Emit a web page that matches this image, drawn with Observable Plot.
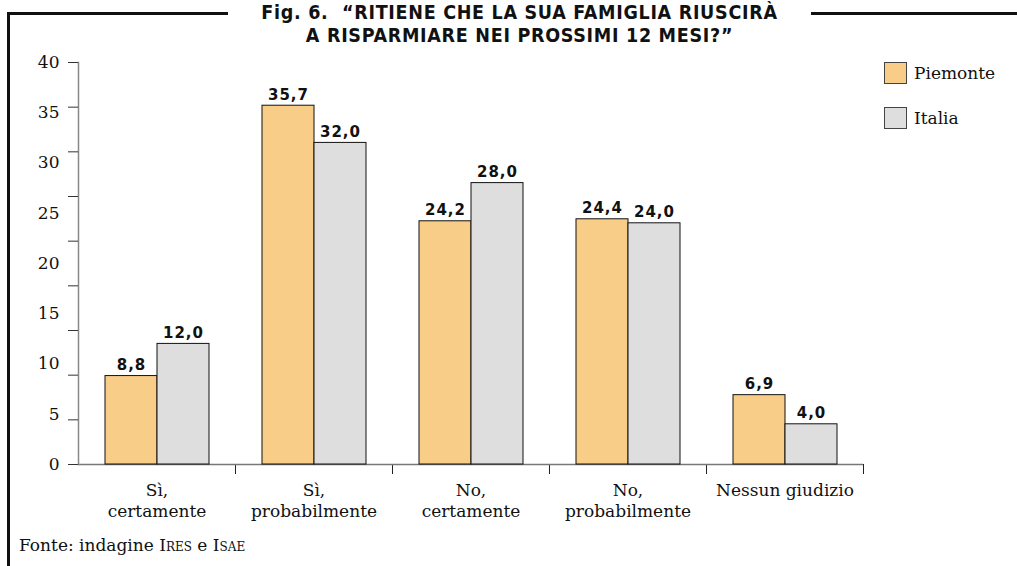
<!DOCTYPE html>
<html>
<head>
<meta charset="utf-8">
<script src="https://cdn.jsdelivr.net/npm/d3@7"></script>
<script src="https://cdn.jsdelivr.net/npm/@observablehq/plot@0.6"></script>
<style>
  html, body { margin: 0; padding: 0; background: white; }
  #wrap { position: relative; width: 1017px; height: 566px; overflow: hidden; background: white; }
  #chart { position: absolute; left: 0; top: 0; }
  #border { position: absolute; left: 7px; top: 12px; width: 2000px; height: 2000px;
            border-left: 3px solid #111; border-top: 3px solid #111; box-sizing: border-box; }
  #title { position: absolute; left: 228px; top: 1px; width: 583px; background: white;
           text-align: center; font-family: "DejaVu Sans Condensed", "DejaVu Sans", sans-serif;
           font-stretch: condensed; font-weight: bold; font-size: 19.5px; line-height: 23px;
           letter-spacing: 0.7px; color: #111; }
  #legend { position: absolute; left: 884px; top: 62px; font-family: "DejaVu Serif", serif; font-size: 17px; color: #111; }
  .item { position: relative; height: 45px; }
  .sw { position: absolute; left: 0; top: 0; width: 21px; height: 20px; border: 1px solid #444; }
  .lab { position: absolute; left: 30px; top: 2px; line-height: 18px; }
  #caption { position: absolute; left: 19px; top: 535px; font-family: "DejaVu Serif", serif; font-size: 17px; color: #111; }
  .sc { font-variant: small-caps; }
  svg g[font-weight="bold"] text { letter-spacing: 1px; }
</style>
</head>
<body>
<div id="wrap">
  <div id="chart"></div>
  <div id="border"></div>
  <div id="title">Fig. 6.&nbsp; “RITIENE CHE LA SUA FAMIGLIA RIUSCIRÀ<br>A RISPARMIARE NEI PROSSIMI 12 MESI?”</div>
  <div id="legend"></div>
  <div id="caption">Fonte: indagine <span class="sc">Ires</span> e <span class="sc">Isae</span></div>
</div>
<script>
// ---- data ----
const categories = ["Sì,\ncertamente", "Sì,\nprobabilmente", "No,\ncertamente", "No,\nprobabilmente", "Nessun giudizio"];
const series = ["Piemonte", "Italia"];
const piemonte = [8.8, 35.7, 24.2, 24.4, 6.9];
const italia = [12.0, 32.0, 28.0, 24.0, 4.0];
const colors = ["#F8CD88", "#DEDEDE"];
const yLabels = [0, 5, 10, 15, 20, 25, 30, 35, 40];
const yMinorTicks = d3.range(10).map(i => i * 40 / 9);

const data = [];
categories.forEach((c, i) => {
  data.push({cat: c, serie: "Piemonte", value: piemonte[i]});
  data.push({cat: c, serie: "Italia", value: italia[i]});
});
const fmt = v => v.toFixed(1).replace(".", ",");

const W = 1017, H = 566, mT = 62, mB = 102, mL = 76, mR = 153;

const chart = Plot.plot({
  width: W, height: H,
  marginTop: mT, marginBottom: mB, marginLeft: mL, marginRight: mR,
  style: {fontFamily: "'DejaVu Serif', serif", fontSize: "17px", color: "#111", background: "transparent"},
  fx: {domain: categories, padding: 0},
  x: {domain: series, paddingInner: 0, paddingOuter: 0.5, axis: null},
  y: {domain: [0, 40]},
  color: {domain: series, range: colors},
  marks: [
    Plot.frame({anchor: "right", insetTop: H - mT - mB, insetBottom: -9, stroke: "#222"}),
    Plot.ruleY([0], {stroke: "#777", strokeWidth: 1.5}),
    Plot.barY(data, {fx: "cat", x: "serie", y: "value", fill: "serie", stroke: "#111", strokeWidth: 1}),
    Plot.text(data, {fx: "cat", x: "serie", y: "value", text: d => fmt(d.value), lineAnchor: "bottom", dy: -6,
      fontFamily: "'DejaVu Sans', sans-serif", fontWeight: "bold", fontSize: 15, fill: "#111"}),
    Plot.frame({anchor: "left", facetAnchor: "left", stroke: "#888", strokeWidth: 1.5}),
    Plot.axisY({ticks: yMinorTicks, tickSize: 10, tickFormat: () => "", stroke: "#333", label: null}),
    Plot.axisY({ticks: yLabels, tickSize: 0, tickPadding: 19, fontSize: 17, label: null, tickFormat: d => String(d)}),
    Plot.axisFx({anchor: "bottom", tickSize: 0, tickPadding: 16, fontSize: 17, lineHeight: 1.25, label: null})
  ]
});
document.getElementById("chart").appendChild(chart);

// legend
const lg = document.getElementById("legend");
series.forEach((s, i) => {
  const it = document.createElement("div");
  it.className = "item";
  it.innerHTML = `<div class="sw" style="background:${colors[i]}"></div><div class="lab">${s}</div>`;
  lg.appendChild(it);
});
</script>
</body>
</html>
